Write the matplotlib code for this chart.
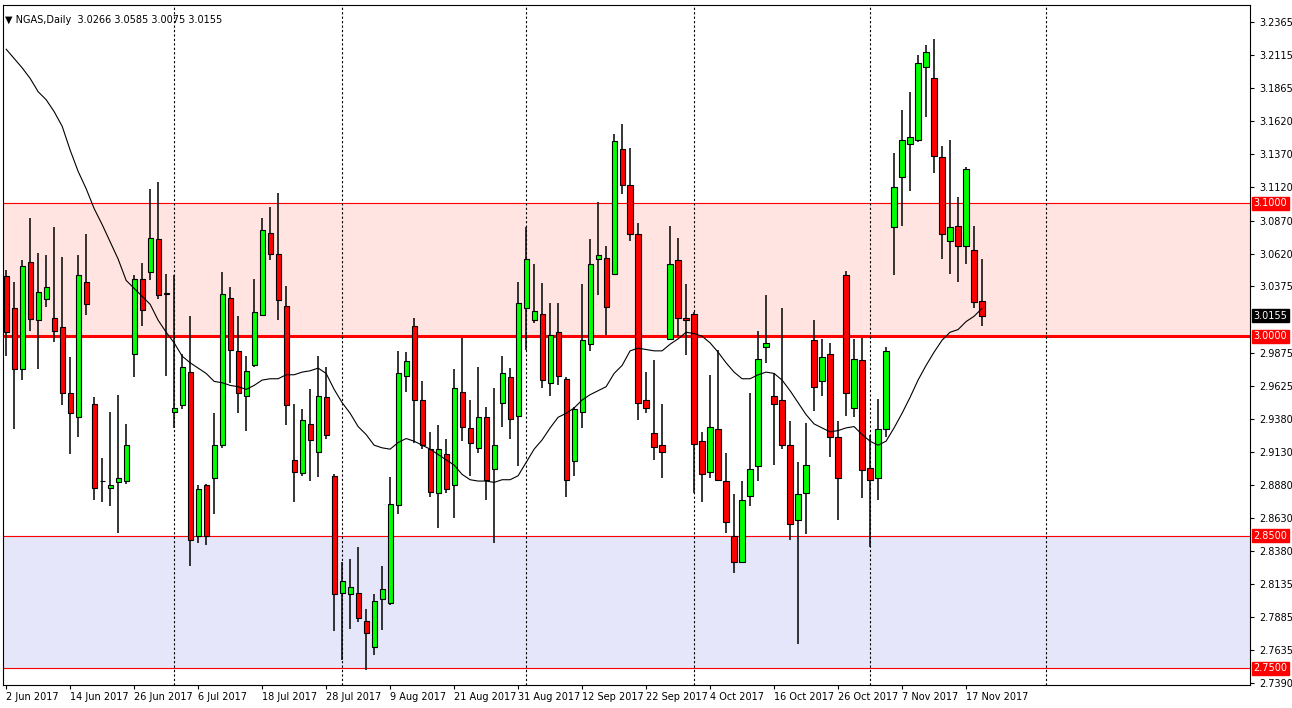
import matplotlib
matplotlib.use("Agg")
import matplotlib.pyplot as plt
import numpy as np
import pandas as pd

# daily NGAS candles, 2 Jun 2017 .. 21 Nov 2017
opens = [3.045, 3.021, 2.975, 3.056, 3.012, 3.028, 3.014, 3.007, 2.957, 2.939,
         3.041, 2.949, 2.891, 2.886, 2.890, 2.891, 2.987, 3.043, 3.048, 3.073,
         3.032, 2.943, 2.948, 2.973, 2.850, 2.888, 2.893, 2.918, 3.029, 2.989,
         2.955, 2.978, 3.016, 3.078, 3.062, 3.023, 2.907, 2.897, 2.934, 2.913,
         2.954, 2.895, 2.807, 2.806, 2.807, 2.786, 2.766, 2.802, 2.799, 2.873,
         2.970, 3.008, 2.952, 2.915, 2.882, 2.911, 2.888, 2.958, 2.931, 2.916,
         2.939, 2.900, 2.950, 2.969, 2.940, 3.021, 3.012, 3.017, 2.965, 3.003,
         2.968, 2.906, 2.943, 2.994, 3.058, 3.059, 3.047, 3.141, 3.114, 3.077,
         2.952, 2.927, 2.918, 2.998, 3.057, 3.014, 3.017, 2.921, 2.898, 2.930,
         2.891, 2.850, 2.830, 2.880, 2.902, 2.992, 2.955, 2.952, 2.918, 2.862,
         2.882, 2.997, 2.966, 2.987, 2.924, 3.046, 2.946, 2.982, 2.901, 2.893,
         2.930, 3.082, 3.120, 3.145, 3.148, 3.203, 3.194, 3.135, 3.072, 3.083,
         3.068, 3.065, 3.0266]
highs = [3.050, 3.041, 3.057, 3.089, 3.063, 3.061, 3.082, 3.060, 2.984, 3.061,
         3.077, 2.954, 2.908, 2.943, 2.956, 2.934, 3.046, 3.055, 3.111, 3.116,
         3.047, 3.046, 2.987, 3.015, 2.888, 2.889, 2.942, 3.048, 3.037, 3.015,
         2.985, 3.043, 3.089, 3.097, 3.108, 3.038, 2.949, 2.945, 2.960, 2.985,
         2.977, 2.896, 2.830, 2.832, 2.841, 2.795, 2.806, 2.827, 2.894, 2.989,
         2.988, 3.014, 2.966, 2.928, 2.933, 2.923, 2.975, 2.999, 2.952, 2.977,
         2.947, 2.961, 2.985, 2.976, 3.041, 3.082, 3.054, 3.040, 3.025, 3.025,
         2.969, 2.947, 3.039, 3.073, 3.101, 3.068, 3.152, 3.160, 3.142, 3.085,
         2.973, 2.982, 2.949, 3.083, 3.074, 3.039, 3.018, 2.928, 2.971, 2.990,
         2.912, 2.881, 2.891, 2.957, 3.004, 3.031, 2.972, 3.021, 2.936, 2.905,
         2.935, 3.012, 2.998, 2.995, 2.936, 3.049, 2.998, 2.999, 2.926, 2.953,
         2.992, 3.138, 3.170, 3.184, 3.212, 3.219, 3.224, 3.143, 3.148, 3.105,
         3.127, 3.083, 3.0585]
lows = [2.985, 2.930, 2.967, 3.004, 2.975, 3.022, 2.996, 2.948, 2.911, 2.924,
        3.016, 2.877, 2.875, 2.872, 2.852, 2.889, 2.969, 3.008, 3.042, 3.028,
        2.970, 2.931, 2.945, 2.827, 2.844, 2.843, 2.866, 2.916, 2.965, 2.942,
        2.929, 2.977, 3.015, 3.057, 3.012, 2.933, 2.875, 2.895, 2.891, 2.894,
        2.923, 2.778, 2.756, 2.780, 2.785, 2.749, 2.760, 2.779, 2.798, 2.866,
        2.958, 2.920, 2.915, 2.879, 2.856, 2.882, 2.863, 2.921, 2.895, 2.912,
        2.877, 2.844, 2.932, 2.923, 2.902, 2.990, 3.010, 2.961, 2.955, 2.963,
        2.879, 2.895, 2.931, 2.989, 3.031, 3.001, 3.046, 3.107, 3.072, 2.937,
        2.942, 2.907, 2.893, 2.997, 3.000, 2.986, 2.882, 2.875, 2.893, 2.891,
        2.852, 2.822, 2.829, 2.872, 2.891, 2.980, 2.903, 2.915, 2.847, 2.768,
        2.851, 2.944, 2.955, 2.909, 2.862, 2.940, 2.939, 2.878, 2.841, 2.877,
        2.924, 3.046, 3.083, 3.109, 3.146, 3.165, 3.123, 3.058, 3.047, 3.041,
        3.054, 3.021, 3.0075]
closes = [3.003, 2.975, 3.053, 3.013, 3.033, 3.037, 3.004, 2.957, 2.942, 3.046,
          3.024, 2.886, 2.891, 2.888, 2.893, 2.918, 3.043, 3.020, 3.074, 3.031,
          3.032, 2.946, 2.977, 2.847, 2.885, 2.850, 2.918, 3.032, 2.990, 2.957,
          2.974, 3.018, 3.080, 3.062, 3.027, 2.948, 2.898, 2.937, 2.922, 2.955,
          2.926, 2.806, 2.816, 2.811, 2.788, 2.777, 2.801, 2.810, 2.874, 2.972,
          2.981, 2.952, 2.918, 2.883, 2.915, 2.885, 2.961, 2.932, 2.920, 2.939,
          2.892, 2.918, 2.972, 2.938, 3.025, 3.058, 3.019, 2.967, 3.001, 2.970,
          2.892, 2.945, 2.997, 3.054, 3.061, 3.022, 3.147, 3.114, 3.077, 2.950,
          2.946, 2.917, 2.913, 3.054, 3.014, 3.012, 2.919, 2.896, 2.932, 2.892,
          2.860, 2.830, 2.877, 2.900, 2.983, 2.995, 2.949, 2.918, 2.859, 2.881,
          2.903, 2.962, 2.984, 2.924, 2.893, 2.957, 2.983, 2.899, 2.892, 2.930,
          2.989, 3.112, 3.148, 3.150, 3.206, 3.214, 3.136, 3.077, 3.082, 3.068,
          3.126, 3.026, 3.0155]
ma20 = [3.216, 3.209, 3.202, 3.194, 3.184, 3.178, 3.169, 3.158, 3.140, 3.124,
        3.111, 3.096, 3.084, 3.071, 3.058, 3.042, 3.036, 3.030, 3.024, 3.012,
        3.003, 2.995, 2.985, 2.980, 2.976, 2.972, 2.966,
        2.965, 2.963, 2.962, 2.960, 2.963, 2.967, 2.968, 2.968, 2.971, 2.971,
        2.973, 2.974, 2.976, 2.972, 2.960, 2.950, 2.942, 2.932, 2.926, 2.918,
        2.916, 2.915, 2.920, 2.923, 2.921,
        2.918, 2.915, 2.911, 2.907, 2.903, 2.896, 2.892, 2.891, 2.891, 2.890,
        2.892, 2.892, 2.895, 2.905, 2.915, 2.922, 2.931, 2.939, 2.942, 2.946,
        2.952, 2.956, 2.959, 2.962, 2.972,
        2.978, 2.989, 2.991, 2.990, 2.989, 2.989, 2.994, 2.998, 3.003, 3.002,
        3.000, 2.995, 2.988, 2.980, 2.973, 2.968, 2.968, 2.971, 2.973, 2.972,
        2.967, 2.959, 2.950, 2.941, 2.934,
        2.931, 2.928, 2.929, 2.931, 2.932, 2.926, 2.921, 2.918, 2.921, 2.931,
        2.942, 2.954, 2.967, 2.978, 2.988, 2.997, 3.003, 3.005, 3.011, 3.015,
        3.021]

dates = pd.bdate_range("2017-06-02", periods=len(opens))
month_starts = ["2017-07-03", "2017-08-01", "2017-09-01", "2017-10-02",
                "2017-11-01", "2017-12-01"]
ytick_vals = [3.2365, 3.2115, 3.1865, 3.1620, 3.1370, 3.1120, 3.0870, 3.0620,
              3.0375, 2.9875, 2.9625, 2.9380, 2.9130, 2.8880, 2.8630, 2.8380,
              2.8135, 2.7885, 2.7635, 2.7390]
levels = [3.10, 3.00, 2.85, 2.75]

o = np.array(opens); c = np.array(closes)
x = np.arange(len(o))

fig = plt.figure(figsize=(12.92, 7.08), dpi=100)
ax = fig.add_axes([3 / 1292, 23 / 708, 1247 / 1292, 680 / 708])
ax.set_xlim(-0.4, 155.5)
ax.set_ylim(2.7375, 3.2493)

# zones
ax.axhspan(3.0, 3.1, color="#FFE4E1", zorder=0)
ax.axhspan(2.75, 2.85, color="#E6E6FA", zorder=0)
for lv in levels:
    ax.axhline(lv, color="red", lw=2.2 if lv == 3.0 else 0.8, zorder=1)

# month separators (the last one sits past the data, as on the terminal)
bday_index = lambda d: len(pd.bdate_range("2017-06-02", d)) - 1
for d in month_starts:
    ax.axvline(bday_index(d), color="black", ls=(0, (2, 2)), lw=0.8, zorder=1)

# candles
up = c >= o
ax.vlines(x, lows, highs, color="black", lw=1.1, zorder=2)
ax.bar(x, np.maximum(np.abs(c - o), 0.0004), bottom=np.minimum(o, c), width=0.65,
       color=np.where(up, "#00FF00", "#FF0000"), edgecolor="black", lw=0.8, zorder=3)
ax.plot(x, ma20, color="black", lw=0.8, zorder=4)

# axes styling
ax.yaxis.tick_right()
ax.set_yticks(ytick_vals)
ax.set_yticklabels([f"{v:.4f}" for v in ytick_vals], fontsize=7)
ax.tick_params(axis="y", length=3, pad=4)
tick_pos = x[::8]
ax.set_xticks(tick_pos)
ax.set_xticklabels([f"{d.day} {d.strftime('%b %Y')}" for d in dates[tick_pos]],
                   fontsize=7, ha="left")
ax.tick_params(axis="x", length=3, pad=2)
for s in ax.spines.values():
    s.set_linewidth(0.8)

# price labels on right
for lv in levels:
    ax.text(1.003, lv, f"{lv:.4f}", transform=ax.get_yaxis_transform(), fontsize=7,
            color="white", va="center", ha="left",
            bbox=dict(boxstyle="square,pad=0.15", fc="red", ec="red"))
ax.text(1.003, closes[-1], f"{closes[-1]:.4f}", transform=ax.get_yaxis_transform(),
        fontsize=7, color="white", va="center", ha="left",
        bbox=dict(boxstyle="square,pad=0.15", fc="black", ec="black"))

ax.text(0.002, 0.985,
        f"\u25BC NGAS,Daily  {opens[-1]:.4f} {highs[-1]:.4f} {lows[-1]:.4f} {closes[-1]:.4f}",
        transform=ax.transAxes, fontsize=7, va="top", ha="left")

fig.savefig("out.png", dpi=100)
